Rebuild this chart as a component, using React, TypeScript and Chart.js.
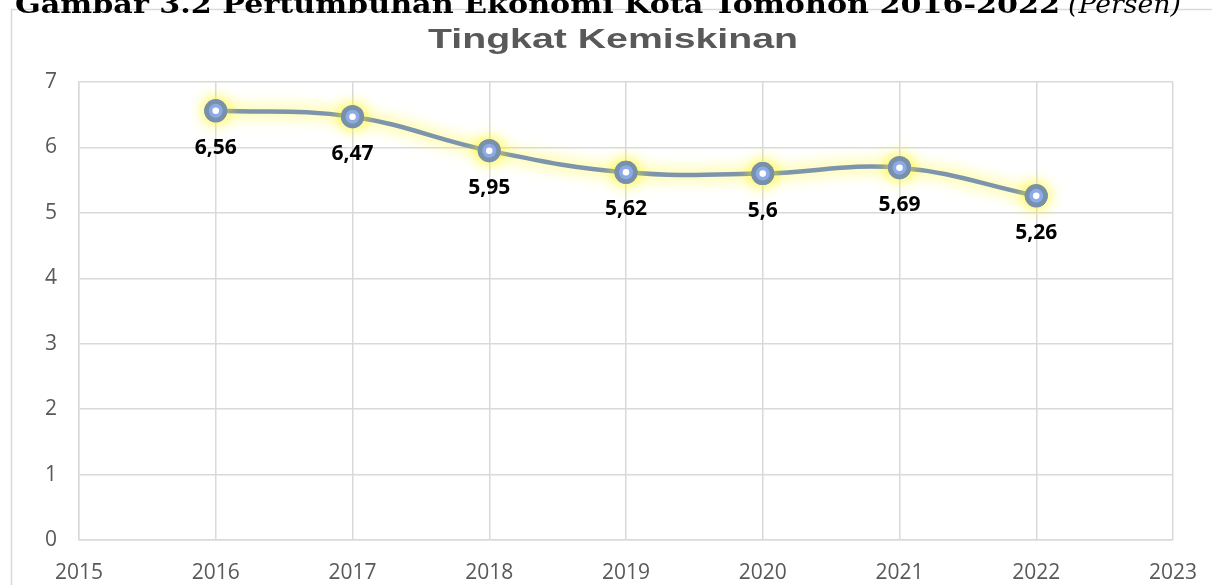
import React, { useEffect, useRef } from "react";
import { Chart, registerables } from "chart.js";

Chart.register(...registerables);

const years = [2016, 2017, 2018, 2019, 2020, 2021, 2022];
const povertyRate = [6.56, 6.47, 5.95, 5.62, 5.6, 5.69, 5.26];
const valueLabels = ["6,56", "6,47", "5,95", "5,62", "5,6", "5,69", "5,26"];
const chartTitle = "Tingkat Kemiskinan";
const headingMain = "Gambar 3.2 Pertumbuhan Ekonomi Kota Tomohon 2016-2022";
const headingItalic = "(Persen)";
const xMin = 2015;
const xMax = 2023;
const yMin = 0;
const yMax = 7;

function fitText(ctx: CanvasRenderingContext2D, text: string, x: number, y: number, width: number) {
  const w = ctx.measureText(text).width;
  ctx.save();
  ctx.translate(x, y);
  ctx.scale(width / w, 1);
  ctx.textAlign = "left";
  ctx.fillText(text, 0, 0);
  ctx.restore();
}

export default function App() {
  const ref = useRef<HTMLCanvasElement | null>(null);

  useEffect(() => {
    let chart: any = null;
    let cancelled = false;
    const decor = {
      id: "decor",
      beforeDraw(c: any) {
        const ctx = c.ctx;
        ctx.save();
        ctx.fillStyle = "#ffffff";
        ctx.fillRect(0, 0, c.width, c.height);
        ctx.strokeStyle = "#d9d9d9";
        ctx.lineWidth = 1.5;
        ctx.strokeRect(11.5, 9.5, 1400, 800);
        ctx.fillStyle = "#000000";
        ctx.textBaseline = "alphabetic";
        ctx.font = "bold 26px 'DejaVu Serif'";
        fitText(ctx, headingMain, 15, 13, 1045);
        ctx.font = "italic 26px 'DejaVu Serif'";
        fitText(ctx, headingItalic, 1068, 13, 113);
        ctx.fillStyle = "#595959";
        ctx.font = "bold 28px 'Liberation Sans'";
        fitText(ctx, chartTitle, 428, 48, 370);
        ctx.restore();
      },
      beforeDatasetsDraw(c: any) {
        const ctx = c.ctx;
        ctx.save();
        ctx.shadowColor = "rgba(255, 245, 0, 1)";
        ctx.shadowBlur = 16;
      },
      afterDatasetsDraw(c: any) {
        const ctx = c.ctx;
        ctx.restore();
        const meta = c.getDatasetMeta(0);
        ctx.save();
        meta.data.forEach((pt: any) => {
          ctx.save();
          ctx.shadowColor = "rgba(255, 245, 0, 1)";
          ctx.shadowBlur = 16;
          ctx.beginPath();
          ctx.fillStyle = "#7890aa";
          ctx.arc(pt.x, pt.y, 11.5, 0, Math.PI * 2);
          ctx.fill();
          ctx.restore();
        });
        meta.data.forEach((pt: any, i: number) => {
          ctx.beginPath();
          ctx.fillStyle = "#7890aa";
          ctx.arc(pt.x, pt.y, 11.5, 0, Math.PI * 2);
          ctx.fill();
          ctx.beginPath();
          ctx.fillStyle = "#8eaae6";
          ctx.arc(pt.x, pt.y, 7, 0, Math.PI * 2);
          ctx.fill();
          ctx.beginPath();
          ctx.fillStyle = "#ffffff";
          ctx.arc(pt.x, pt.y, 3.3, 0, Math.PI * 2);
          ctx.fill();
          ctx.fillStyle = "#000000";
          ctx.font = "bold 21px 'Open Sans'";
          ctx.textAlign = "center";
          ctx.textBaseline = "middle";
          ctx.fillText(valueLabels[i], pt.x, pt.y + 37);
        });
        ctx.restore();
      },
    };

    const build = () => {
      if (cancelled || !ref.current) return;
      chart = new Chart(ref.current, {
        type: "line",
        data: {
          datasets: [
            {
              data: years.map((y, i) => ({ x: y, y: povertyRate[i] })),
              borderColor: "#7d94ad",
              borderWidth: 4.5,
              tension: 0.4,
              pointRadius: 0,
              fill: false,
            },
          ],
        },
        options: {
          responsive: false,
          animation: false,
          devicePixelRatio: 1,
          layout: { padding: { left: 0, right: 39, top: 82, bottom: 0 } },
          plugins: {
            legend: { display: false },
            tooltip: { enabled: false },
            title: { display: false },
          },
          scales: {
            x: {
              type: "linear",
              min: xMin,
              max: xMax,
              ticks: {
                stepSize: 1,
                color: "#595959",
                font: { family: "'Open Sans'", size: 21 },
                padding: 20,
                callback: (v: any) => String(v),
              },
              grid: { color: "#d9d9d9", lineWidth: 1.5, drawTicks: false },
              border: { color: "#d9d9d9", width: 1.5 },
              afterFit: (s: any) => {
                s.height = 45;
                s.paddingLeft = 0;
                s.paddingRight = 0;
              },
            },
            y: {
              min: yMin,
              max: yMax,
              ticks: {
                stepSize: 1,
                color: "#595959",
                font: { family: "'Open Sans'", size: 21 },
                padding: 22,
              },
              grid: { color: "#d9d9d9", lineWidth: 1.5, drawTicks: false },
              border: { color: "#d9d9d9", width: 1.5 },
              afterFit: (s: any) => {
                s.width = 79;
                s.paddingTop = 0;
                s.paddingBottom = 0;
              },
            },
          },
        },
        plugins: [decor],
      } as any);
    };

    const fonts = (document as any).fonts;
    if (fonts && fonts.load) {
      Promise.all([
        fonts.load("21px 'Open Sans'"),
        fonts.load("bold 21px 'Open Sans'"),
        fonts.load("bold 28px 'Liberation Sans'"),
        fonts.load("bold 26px 'DejaVu Serif'"),
        fonts.load("italic 26px 'DejaVu Serif'"),
      ])
        .catch(() => null)
        .then(build);
    } else {
      build();
    }
    return () => {
      cancelled = true;
      if (chart) chart.destroy();
    };
  }, []);

  return (
    <canvas
      ref={ref}
      width={1212}
      height={585}
      style={{ position: "absolute", left: 0, top: 0, width: 1212, height: 585 }}
    />
  );
}
